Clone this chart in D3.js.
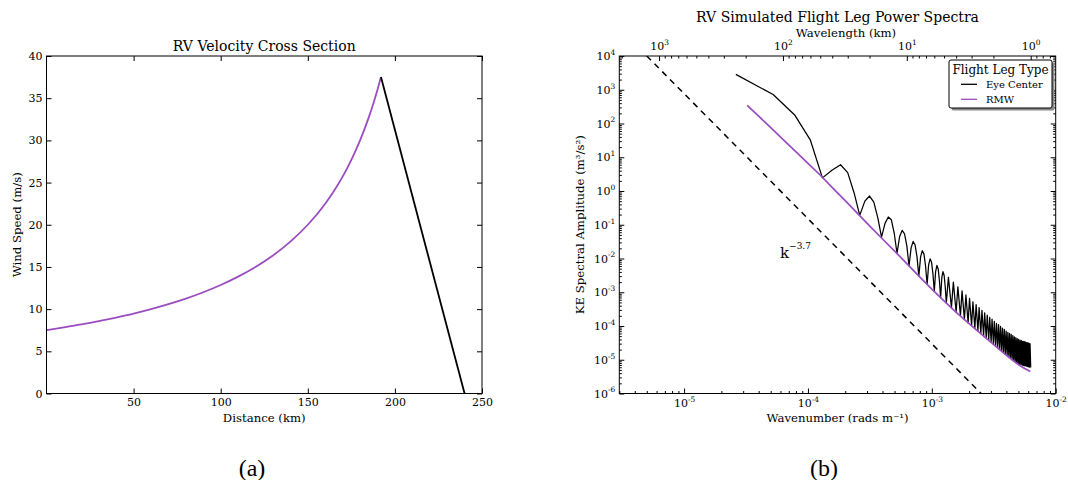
<!DOCTYPE html>
<meta charset="utf-8">
<head>
  <script src="https://cdn.jsdelivr.net/npm/d3@7"></script>
  <style>
    body { margin: 0; background: #fff; }
    text { font-family: "DejaVu Serif", serif; fill: #000; }
  </style>
</head>
<body>
<div id="viz"></div>
<script>
  // ---- (a) velocity cross section ----
  var rmwDist = [0, 10, 20, 30, 40, 50, 60, 70, 80, 90, 100, 110, 120, 130, 140, 150, 160, 165, 170, 175, 180, 185, 188, 190, 192];
  var rmwSpeed = [7.50, 7.83, 8.18, 8.57, 9.00, 9.47, 10.00, 10.59, 11.25, 12.00, 12.86, 13.85, 15.00, 16.36, 18.00, 20.00,
    22.50, 24.00, 25.71, 27.69, 30.00, 32.73, 34.62, 36.00, 37.50];
  var eyeDist = [192, 240];
  var eyeSpeed = [37.5, 0];
  var speedTicks = [0, 5, 10, 15, 20, 25, 30, 35, 40];
  var distTicks = [50, 100, 150, 200, 250];

  // ---- (b) power spectra ----
  var rmwK = [3.23e-5, 3.98e-5, 5.01e-5, 6.31e-5, 7.94e-5, 1.0e-4, 1.26e-4, 1.58e-4, 2.0e-4, 2.51e-4, 3.16e-4, 3.98e-4, 5.01e-4,
    6.31e-4, 7.94e-4, 1.0e-3, 1.26e-3, 1.58e-3, 2.0e-3, 2.51e-3, 3.16e-3, 3.98e-3, 5.01e-3, 5.62e-3, 6.24e-3];
  var rmwAmp = [347, 168, 75.3, 33.5, 14.9, 6.62, 2.93, 1.24, 0.521, 0.218, 0.0914, 0.0384, 0.0166,
    6.9e-3, 2.9e-3, 1.23e-3, 5.5e-4, 2.5e-4, 1.17e-4, 5.75e-5, 2.82e-5, 1.38e-5, 7.1e-6, 5.5e-6, 4.47e-6];

  // eye center leg: first lobes point by point, then one dip and one peak per lobe
  var eyeHeadK = [2.618e-5, 5.236e-5, 7.854e-5, 1.047e-4, 1.309e-4, 1.571e-4, 1.833e-4, 2.094e-4, 2.356e-4, 2.618e-4,
    2.880e-4, 3.142e-4, 3.403e-4, 3.665e-4, 3.927e-4, 4.189e-4, 4.451e-4, 4.712e-4, 4.974e-4, 5.236e-4,
    5.498e-4, 5.760e-4, 6.021e-4, 6.283e-4, 6.545e-4, 6.807e-4, 7.069e-4, 7.330e-4, 7.592e-4, 7.854e-4,
    8.116e-4, 8.378e-4, 8.639e-4, 8.901e-4, 9.163e-4, 9.425e-4, 9.687e-4, 9.948e-4, 1.021e-3, 1.047e-3,
    1.073e-3, 1.100e-3, 1.126e-3, 1.152e-3, 1.178e-3, 1.204e-3, 1.230e-3, 1.257e-3, 1.283e-3];
  var eyeHeadAmp = [2850, 720, 175, 32, 2.45, 4.2, 6.0, 3.5, 0.89, 0.19,
    0.50, 0.71, 0.47, 0.16, 0.043, 0.11, 0.17, 0.14, 0.056, 1.41e-2,
    4.5e-2, 6.8e-2, 5.4e-2, 2.4e-2, 6.0e-3, 2.1e-2, 3.2e-2, 2.5e-2, 1.12e-2, 3.0e-3,
    1.12e-2, 1.7e-2, 1.35e-2, 6.0e-3, 1.7e-3, 6.5e-3, 9.8e-3, 7.8e-3, 3.5e-3, 1.05e-3,
    4.1e-3, 6.2e-3, 4.9e-3, 2.2e-3, 6.9e-4, 2.7e-3, 4.1e-3, 3.2e-3, 1.45e-3];
  var eyeDipK = [1.309e-3, 1.440e-3, 1.571e-3, 1.702e-3,
    1.833e-3, 1.963e-3, 2.094e-3, 2.225e-3, 2.356e-3, 2.487e-3, 2.618e-3, 2.749e-3, 2.880e-3, 3.011e-3,
    3.142e-3, 3.272e-3, 3.403e-3, 3.534e-3, 3.665e-3, 3.796e-3, 3.927e-3, 4.058e-3, 4.189e-3, 4.320e-3,
    4.451e-3, 4.581e-3, 4.712e-3, 4.843e-3, 4.974e-3, 5.105e-3, 5.236e-3, 5.367e-3, 5.498e-3, 5.629e-3,
    5.760e-3, 5.890e-3, 6.021e-3, 6.152e-3, 6.283e-3];
  var eyeDipAmp = [4.8e-4, 3.5e-4, 2.6e-4, 2.0e-4,
    1.55e-4, 1.23e-4, 1.02e-4, 8.3e-5, 7.1e-5, 5.9e-5, 5.0e-5, 4.4e-5, 3.8e-5, 3.3e-5,
    2.9e-5, 2.5e-5, 2.24e-5, 2.0e-5, 1.78e-5, 1.62e-5, 1.45e-5, 1.32e-5, 1.2e-5, 1.1e-5,
    1.0e-5, 9.3e-6, 8.7e-6, 8.1e-6, 7.8e-6, 7.4e-6, 7.2e-6, 6.9e-6, 6.8e-6, 6.6e-6,
    6.5e-6, 6.3e-6, 6.2e-6, 6.0e-6, 5.9e-6];
  var eyePeakK = [1.361e-3, 1.492e-3, 1.623e-3, 1.754e-3,
    1.885e-3, 2.016e-3, 2.147e-3, 2.278e-3, 2.409e-3, 2.539e-3, 2.670e-3, 2.801e-3, 2.932e-3, 3.063e-3,
    3.194e-3, 3.325e-3, 3.456e-3, 3.587e-3, 3.718e-3, 3.848e-3, 3.979e-3, 4.110e-3, 4.241e-3, 4.372e-3,
    4.503e-3, 4.634e-3, 4.765e-3, 4.896e-3, 5.026e-3, 5.157e-3, 5.288e-3, 5.419e-3, 5.550e-3, 5.681e-3,
    5.812e-3, 5.943e-3, 6.074e-3, 6.205e-3];
  var eyePeakAmp = [2.75e-3, 2.0e-3, 1.45e-3, 1.1e-3,
    8.3e-4, 6.6e-4, 5.2e-4, 4.3e-4, 3.5e-4, 2.9e-4, 2.45e-4, 2.1e-4, 1.8e-4, 1.6e-4,
    1.38e-4, 1.2e-4, 1.1e-4, 9.8e-5, 8.7e-5, 7.9e-5, 7.1e-5, 6.5e-5, 6.0e-5, 5.6e-5,
    5.2e-5, 4.8e-5, 4.5e-5, 4.2e-5, 4.0e-5, 3.8e-5, 3.7e-5, 3.5e-5, 3.5e-5, 3.4e-5,
    3.2e-5, 3.2e-5, 3.1e-5, 3.0e-5];

  // reference slope line k^-3.7
  var refK = [5.0e-6, 2.5e-3];
  var refAmp = [1e4, 1e-6];

  var kTicks = [1e-5, 1e-4, 1e-3, 1e-2];
  var ampTicks = [1e-6, 1e-5, 1e-4, 1e-3, 1e-2, 1e-1, 1e0, 1e1, 1e2, 1e3, 1e4];
  var waveTicks = [1e3, 1e2, 1e1, 1e0];

  var purple = "#9b4dc0";
  var plotTop = 56, plotBottom = 393.5;

  var svg = d3.select("#viz").append("svg")
    .attr("width", 1068)
    .attr("height", 480);

  function styleAxis(g, size) {
    g.select(".domain").remove();
    g.selectAll(".tick line").attr("stroke", "#000");
    g.selectAll("text")
      .attr("font-family", '"DejaVu Serif", serif')
      .attr("font-size", size)
      .attr("fill", "#000");
  }

  // turn 1e-5 into 10 with superscript
  function powLabels(g) {
    g.selectAll(".tick text").each(function(d) {
      var t = d3.select(this);
      var e = Math.round(Math.log10(d));
      t.text(null);
      t.append("tspan").text("10");
      t.append("tspan").attr("font-size", "0.68em").attr("dy", "-0.7em").text(e < 0 ? "-" + (-e) : e);
    });
  }

  // ===================== panel (a) =====================
  var xa = d3.scaleLinear().domain([0, 250]).range([46.5, 482]);
  var ya = d3.scaleLinear().domain([0, 40]).range([plotBottom, plotTop]);
  var ga = svg.append("g");

  ga.append("g").attr("transform", "translate(0," + plotBottom + ")")
    .call(d3.axisBottom(xa).tickValues(distTicks).tickSize(-5).tickSizeOuter(0).tickPadding(5))
    .call(styleAxis, 11);
  ga.append("g").attr("transform", "translate(0," + plotTop + ")")
    .call(d3.axisTop(xa).tickValues(distTicks).tickSize(-5).tickSizeOuter(0).tickFormat(""))
    .call(styleAxis, 11);
  ga.append("g").attr("transform", "translate(" + xa(0) + ",0)")
    .call(d3.axisLeft(ya).tickValues(speedTicks).tickSize(-5).tickSizeOuter(0).tickPadding(4))
    .call(styleAxis, 11);
  ga.append("g").attr("transform", "translate(" + xa(250) + ",0)")
    .call(d3.axisRight(ya).tickValues(speedTicks).tickSize(-5).tickSizeOuter(0).tickFormat(""))
    .call(styleAxis, 11);

  var lineA = d3.line()
    .x(function(d) { return xa(d[0]); })
    .y(function(d) { return ya(d[1]); });

  ga.append("path")
    .datum(d3.zip(rmwDist, rmwSpeed))
    .attr("d", lineA.curve(d3.curveMonotoneX))
    .attr("fill", "none").attr("stroke", purple).attr("stroke-width", 1.8);
  ga.append("path")
    .datum(d3.zip(eyeDist, eyeSpeed))
    .attr("d", lineA.curve(d3.curveLinear))
    .attr("fill", "none").attr("stroke", "#000").attr("stroke-width", 1.8);

  ga.append("rect")
    .attr("x", xa(0)).attr("y", plotTop)
    .attr("width", xa(250) - xa(0)).attr("height", plotBottom - plotTop)
    .attr("fill", "none").attr("stroke", "#000").attr("stroke-width", 1);

  ga.append("text").attr("x", (xa(0) + xa(250)) / 2).attr("y", 51)
    .attr("text-anchor", "middle").attr("font-size", 14).text("RV Velocity Cross Section");
  ga.append("text").attr("x", (xa(0) + xa(250)) / 2).attr("y", 422)
    .attr("text-anchor", "middle").attr("font-size", 11.7).text("Distance (km)");
  ga.append("text").attr("transform", "translate(21," + (plotTop + plotBottom) / 2 + ") rotate(-90)")
    .attr("text-anchor", "middle").attr("font-size", 11.7).text("Wind Speed (m/s)");
  ga.append("text").attr("x", 252).attr("y", 476)
    .attr("text-anchor", "middle").attr("font-size", 24)
    .style("font-family", '"Liberation Serif", serif').text("(a)");

  // ===================== panel (b) =====================
  var bx0 = 619.3, bx1 = 1055.7;
  var xb = d3.scaleLog().domain([3e-6, 1e-2]).range([bx0, bx1]);
  // wavelength in km = 2*pi / k / 1000
  var wb = d3.scaleLog().domain([2 * Math.PI / 3e-6 / 1000, 2 * Math.PI / 1e-2 / 1000]).range([bx0, bx1]);
  var yb = d3.scaleLog().domain([1e-6, 1e4]).range([plotBottom, plotTop]);
  var gb = svg.append("g");

  function notPow(v) { return Math.abs(Math.log10(v) - Math.round(Math.log10(v))) > 1e-6; }
  var kMinor = xb.ticks(20).filter(notPow);
  var wMinor = wb.ticks(20).filter(notPow);
  var aMinor = yb.ticks(40).filter(notPow);

  gb.append("g").attr("transform", "translate(0," + plotBottom + ")")
    .call(d3.axisBottom(xb).tickValues(kMinor).tickSize(-2.5).tickSizeOuter(0).tickFormat(""))
    .call(styleAxis, 11);
  gb.append("g").attr("transform", "translate(0," + plotBottom + ")")
    .call(d3.axisBottom(xb).tickValues(kTicks).tickSize(-5).tickSizeOuter(0).tickPadding(6))
    .call(styleAxis, 11).call(powLabels);

  gb.append("g").attr("transform", "translate(0," + plotTop + ")")
    .call(d3.axisTop(wb).tickValues(wMinor).tickSize(-2.5).tickSizeOuter(0).tickFormat(""))
    .call(styleAxis, 11);
  gb.append("g").attr("transform", "translate(0," + plotTop + ")")
    .call(d3.axisTop(wb).tickValues(waveTicks).tickSize(-5).tickSizeOuter(0).tickPadding(6))
    .call(styleAxis, 11).call(powLabels);

  gb.append("g").attr("transform", "translate(" + bx0 + ",0)")
    .call(d3.axisLeft(yb).tickValues(aMinor).tickSize(-2.5).tickSizeOuter(0).tickFormat(""))
    .call(styleAxis, 11);
  gb.append("g").attr("transform", "translate(" + bx0 + ",0)")
    .call(d3.axisLeft(yb).tickValues(ampTicks).tickSize(-5).tickSizeOuter(0).tickPadding(4))
    .call(styleAxis, 11).call(powLabels);
  gb.append("g").attr("transform", "translate(" + bx1 + ",0)")
    .call(d3.axisRight(yb).tickValues(aMinor).tickSize(-2.5).tickSizeOuter(0).tickFormat(""))
    .call(styleAxis, 11);
  gb.append("g").attr("transform", "translate(" + bx1 + ",0)")
    .call(d3.axisRight(yb).tickValues(ampTicks).tickSize(-5).tickSizeOuter(0).tickFormat(""))
    .call(styleAxis, 11);

  var lineB = d3.line()
    .x(function(d) { return xb(d[0]); })
    .y(function(d) { return yb(d[1]); });

  // eye center leg polyline: head, then dip / peak per lobe, ending on the last dip
  var eyePts = d3.zip(eyeHeadK, eyeHeadAmp);
  eyeDipK.forEach(function(k, i) {
    eyePts.push([k, eyeDipAmp[i]]);
    if (i < eyePeakK.length) eyePts.push([eyePeakK[i], eyePeakAmp[i]]);
  });

  gb.append("clipPath").attr("id", "clipb").append("rect")
    .attr("x", bx0).attr("y", plotTop).attr("width", bx1 - bx0).attr("height", plotBottom - plotTop);
  var plotB = gb.append("g").attr("clip-path", "url(#clipb)");

  plotB.append("path")
    .datum(d3.zip(refK, refAmp))
    .attr("d", lineB)
    .attr("fill", "none").attr("stroke", "#000").attr("stroke-width", 1.5)
    .attr("stroke-dasharray", "6,5");
  plotB.append("path")
    .datum(eyePts)
    .attr("d", lineB)
    .attr("fill", "none").attr("stroke", "#000").attr("stroke-width", 1.25)
    .attr("stroke-linejoin", "round");
  plotB.append("path")
    .datum(d3.zip(rmwK, rmwAmp))
    .attr("d", lineB)
    .attr("fill", "none").attr("stroke", purple).attr("stroke-width", 1.7);

  gb.append("rect")
    .attr("x", bx0).attr("y", plotTop)
    .attr("width", bx1 - bx0).attr("height", plotBottom - plotTop)
    .attr("fill", "none").attr("stroke", "#000").attr("stroke-width", 1);

  var slopeLabel = gb.append("text").attr("x", 780).attr("y", 258).attr("font-size", 15);
  slopeLabel.append("tspan").text("k");
  slopeLabel.append("tspan").attr("font-size", "0.6em").attr("dy", "-0.95em").text("\u22123.7");

  var midB = (bx0 + bx1) / 2;
  gb.append("text").attr("x", midB).attr("y", 22)
    .attr("text-anchor", "middle").attr("font-size", 14).text("RV Simulated Flight Leg Power Spectra");
  gb.append("text").attr("x", 846).attr("y", 37)
    .attr("text-anchor", "middle").attr("font-size", 11.7).text("Wavelength (km)");
  gb.append("text").attr("x", midB).attr("y", 422)
    .attr("text-anchor", "middle").attr("font-size", 11.7).text("Wavenumber (rads m\u207B\u00B9)");
  gb.append("text").attr("transform", "translate(584," + (plotTop + plotBottom) / 2 + ") rotate(-90)")
    .attr("text-anchor", "middle").attr("font-size", 11.7).text("KE Spectral Amplitude (m\u00B3/s\u00B2)");
  gb.append("text").attr("x", 824).attr("y", 476)
    .attr("text-anchor", "middle").attr("font-size", 24)
    .style("font-family", '"Liberation Serif", serif').text("(b)");

  // legend
  var legendNames = ["Eye Center", "RMW"];
  var legendColors = ["#000", purple];
  var lg = gb.append("g");
  lg.append("rect").attr("x", 951.5).attr("y", 62.5).attr("width", 103).attr("height", 48)
    .attr("rx", 2).attr("fill", "#8a8a8a");
  lg.append("rect").attr("x", 949).attr("y", 60).attr("width", 103).attr("height", 48)
    .attr("rx", 2).attr("fill", "#fff").attr("stroke", "#000").attr("stroke-width", 1);
  lg.append("text").attr("x", 1000.5).attr("y", 74)
    .attr("text-anchor", "middle").attr("font-size", 12).text("Flight Leg Type");
  legendNames.forEach(function(name, i) {
    var yy = 84.3 + i * 15;
    lg.append("line").attr("x1", 961).attr("x2", 977).attr("y1", yy).attr("y2", yy)
      .attr("stroke", legendColors[i]).attr("stroke-width", 1.3);
    lg.append("text").attr("x", 986).attr("y", yy + 3.4).attr("font-size", 10).text(name);
  });
</script>
</body>
